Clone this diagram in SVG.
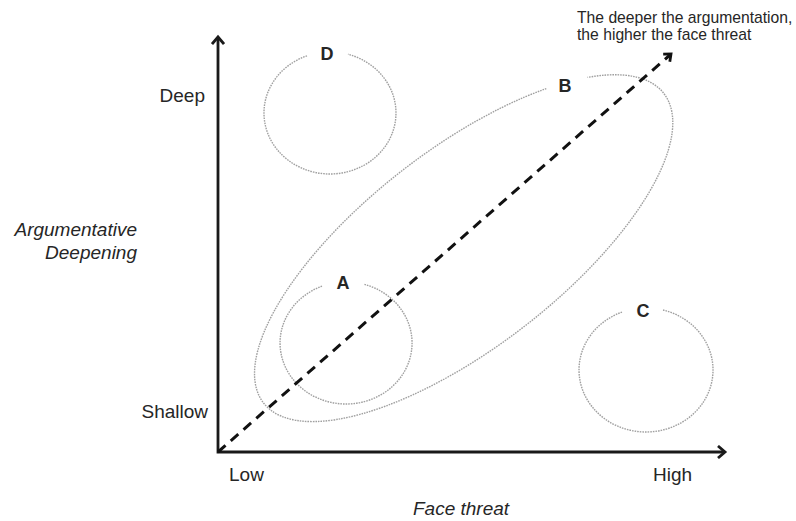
<svg xmlns="http://www.w3.org/2000/svg" width="796" height="521" viewBox="0 0 796 521">
<style>
text{font-family:"Liberation Sans",Arial,sans-serif;fill:#262626}
.ax{font-size:19px}
.it{font-size:19px;font-style:italic}
.lbl{font-size:18px;font-weight:bold;text-anchor:middle}
.grp{fill:none;stroke:#a0a0a0;stroke-width:1.4;stroke-dasharray:1.6 1}
.axis{fill:none;stroke:#1a1a1a;stroke-width:2.8}
</style>
<defs>
<marker id="ah" markerWidth="14" markerHeight="14" refX="10" refY="7" orient="auto-start-reverse" markerUnits="userSpaceOnUse">
<polyline points="3,1 10,7 3,13" fill="none" stroke="#1a1a1a" stroke-width="2.8"/>
</marker>
<marker id="dh" markerWidth="14" markerHeight="14" refX="10" refY="7" orient="auto" markerUnits="userSpaceOnUse">
<polyline points="4,2 10,7 4,12" fill="none" stroke="#111" stroke-width="2.8"/>
</marker>
</defs>
<rect width="796" height="521" fill="#fff"/>
<g id="groupD">
<path class="grp" d="M307 55.8 A66 61 0 1 0 348 54.3"/>
<text class="lbl" x="327" y="60">D</text>
</g>
<g id="groupB">
<path class="grp" d="M546.3 88.6 A253 99 -37.7 1 0 587.5 77.4"/>
<text class="lbl" x="565" y="92">B</text>
</g>
<g id="groupA">
<path class="grp" d="M322 286.2 A66 61 0 1 0 364 284.3"/>
<text class="lbl" x="343" y="289">A</text>
</g>
<g id="groupC">
<path class="grp" d="M622 312.1 A67 62 0 1 0 663 310"/>
<text class="lbl" x="643" y="317">C</text>
</g>
<g id="connectors">
<polyline class="axis" points="218,37 218,452 725,452" marker-start="url(#ah)" marker-end="url(#ah)"/>
<line x1="218" y1="452" x2="671" y2="54" stroke="#111" stroke-width="3" stroke-dasharray="10 7" marker-end="url(#dh)"/>
</g>
<g id="labels">
<text class="ax" x="205" y="102" text-anchor="end">Deep</text>
<text class="ax" x="208" y="418" text-anchor="end">Shallow</text>
<text class="it" x="137" y="236" text-anchor="end">Argumentative</text>
<text class="it" x="137" y="259" text-anchor="end">Deepening</text>
<text class="ax" x="229" y="481">Low</text>
<text class="ax" x="653" y="481">High</text>
<text class="it" x="413" y="515">Face threat</text>
<text x="577" y="23" font-size="15.7">The deeper the argumentation,</text>
<text x="577" y="40" font-size="15.7">the higher the face threat</text>
</g>
</svg>
